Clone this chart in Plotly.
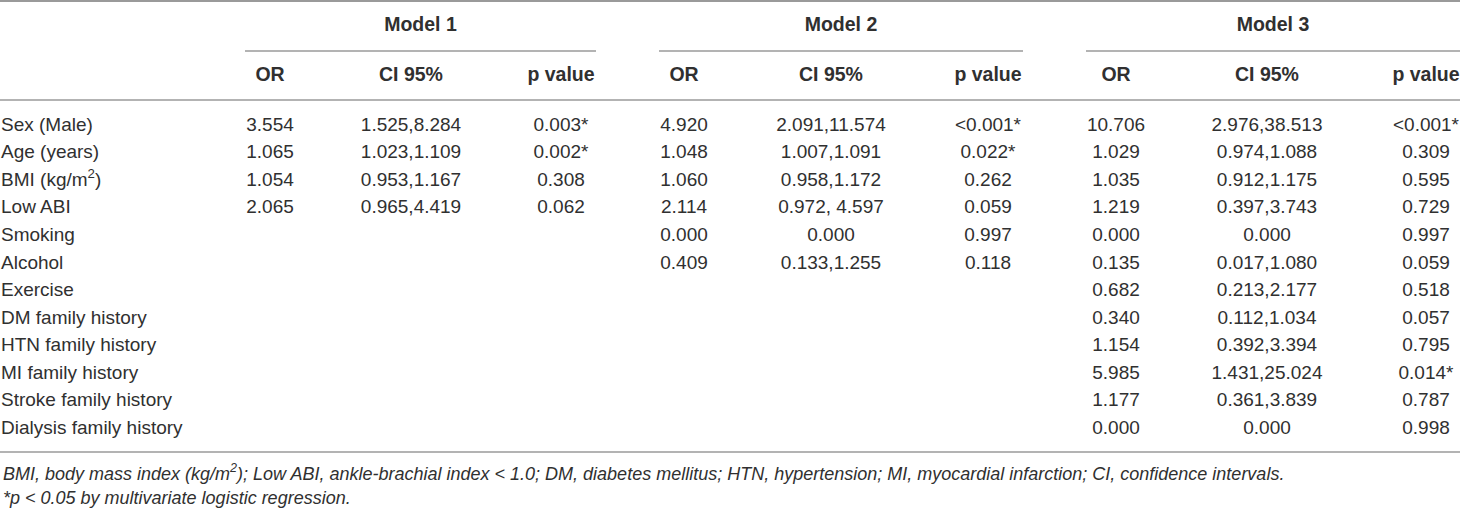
import plotly.graph_objects as go

# Multivariate logistic regression table (three models)
row_labels = ["Sex (Male)", "Age (years)", "BMI (kg/m<sup>2</sup>)", "Low ABI", "Smoking",
              "Alcohol", "Exercise", "DM family history", "HTN family history",
              "MI family history", "Stroke family history", "Dialysis family history"]

model_names = ["Model 1", "Model 2", "Model 3"]
col_names = ["OR", "CI 95%", "p value"]

m1_or = ["3.554", "1.065", "1.054", "2.065"]
m1_ci = ["1.525,8.284", "1.023,1.109", "0.953,1.167", "0.965,4.419"]
m1_p = ["0.003*", "0.002*", "0.308", "0.062"]

m2_or = ["4.920", "1.048", "1.060", "2.114", "0.000", "0.409"]
m2_ci = ["2.091,11.574", "1.007,1.091", "0.958,1.172", "0.972, 4.597", "0.000", "0.133,1.255"]
m2_p = ["<0.001*", "0.022*", "0.262", "0.059", "0.997", "0.118"]

m3_or = ["10.706", "1.029", "1.035", "1.219", "0.000", "0.135", "0.682", "0.340",
         "1.154", "5.985", "1.177", "0.000"]
m3_ci = ["2.976,38.513", "0.974,1.088", "0.912,1.175", "0.397,3.743", "0.000", "0.017,1.080",
         "0.213,2.177", "0.112,1.034", "0.392,3.394", "1.431,25.024", "0.361,3.839", "0.000"]
m3_p = ["<0.001*", "0.309", "0.595", "0.729", "0.997", "0.059", "0.518", "0.057",
        "0.795", "0.014*", "0.787", "0.998"]

footnotes = ["BMI, body mass index (kg/m<sup>2</sup>); Low ABI, ankle-brachial index < 1.0; "
             "DM, diabetes mellitus; HTN, hypertension; MI, myocardial infarction; CI, confidence intervals.",
             "*p < 0.05 by multivariate logistic regression."]

# layout (pixel-like axes, y grows downward)
W, H = 1460, 509
FONT = "Liberation Sans, Arial, sans-serif"
TXT = "#303030"
RULE = "#9a9a9a"
BODY = 19
row_y0, row_step = 126, 27.55
model_spans = [(245, 596), (659, 1023), (1086, 1460)]
col_x = [(270, 411, 561), (684, 831, 988), (1116, 1267, 1426)]
models = [(m1_or, m1_ci, m1_p), (m2_or, m2_ci, m2_p), (m3_or, m3_ci, m3_p)]


def esc(s):
    return s.replace("<0", "&lt;0").replace("< ", "&lt; ")


fig = go.Figure()

# row labels
fig.add_trace(go.Scatter(
    x=[1] * len(row_labels), y=[row_y0 + i * row_step for i in range(len(row_labels))],
    mode="text", text=row_labels, textposition="middle right",
    textfont=dict(family=FONT, size=BODY, color=TXT), hoverinfo="skip", cliponaxis=False))

# model values
for (cols, xs) in zip(models, col_x):
    for vals, x in zip(cols, xs):
        fig.add_trace(go.Scatter(
            x=[x] * len(vals), y=[row_y0 + i * row_step for i in range(len(vals))],
            mode="text", text=[esc(v) for v in vals], textposition="middle center",
            textfont=dict(family=FONT, size=BODY, color=TXT), hoverinfo="skip", cliponaxis=False))

# headers
for name, (x0, x1), xs in zip(model_names, model_spans, col_x):
    fig.add_trace(go.Scatter(
        x=[(x0 + x1) / 2], y=[26], mode="text", text=["<b>" + name + "</b>"],
        textposition="middle center", textfont=dict(family=FONT, size=19.5, color=TXT),
        hoverinfo="skip", cliponaxis=False))
    fig.add_trace(go.Scatter(
        x=list(xs), y=[76] * 3, mode="text", text=["<b>" + c + "</b>" for c in col_names],
        textposition="middle center", textfont=dict(family=FONT, size=19.5, color=TXT),
        hoverinfo="skip", cliponaxis=False))
    fig.add_shape(type="line", x0=x0, x1=x1, y0=51, y1=51, line=dict(color=RULE, width=1.5))

# horizontal rules
fig.add_shape(type="line", x0=0, x1=W, y0=1, y1=1, line=dict(color=RULE, width=2))
fig.add_shape(type="line", x0=0, x1=W, y0=100, y1=100, line=dict(color=RULE, width=1.5))
fig.add_shape(type="line", x0=0, x1=W, y0=452, y1=452, line=dict(color=RULE, width=1.5))

# footnotes
for i, note in enumerate(footnotes):
    fig.add_annotation(x=1, y=472 + i * 26, xref="x", yref="y", text="<i>" + esc(note) + "</i>",
                       showarrow=False, xanchor="left", yanchor="middle",
                       font=dict(family=FONT, size=18, color=TXT))

fig.update_xaxes(range=[0, W], visible=False, fixedrange=True)
fig.update_yaxes(range=[H, 0], visible=False, fixedrange=True)
fig.update_layout(width=W, height=H, margin=dict(l=0, r=0, t=0, b=0),
                  paper_bgcolor="white", plot_bgcolor="white", showlegend=False)

fig.write_html("out.html", config={"displayModeBar": False},
               post_script="document.body.style.margin='0';")
